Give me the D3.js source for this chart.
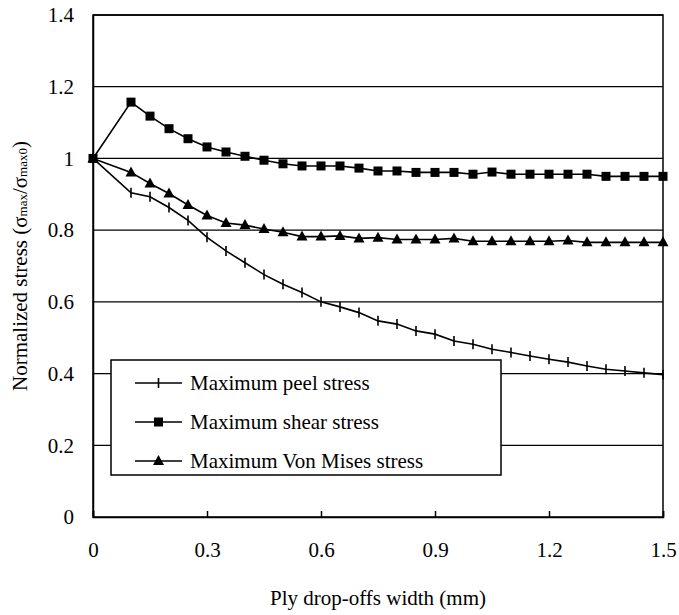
<!DOCTYPE html>
<html>
<head>
<meta charset="utf-8">
<script src="https://cdn.jsdelivr.net/npm/d3@7"></script>
<style>
  html, body { margin: 0; padding: 0; background: #fff; }
  svg { display: block; }
  text { font-family: "Liberation Serif", "Times New Roman", serif; fill: #000; }
</style>
</head>
<body>
<svg id="chart" width="679" height="615"></svg>
<script>
// ---- data ----
const widths = [0, 0.1, 0.15, 0.2, 0.25, 0.3, 0.35, 0.4, 0.45, 0.5, 0.55, 0.6, 0.65, 0.7, 0.75,
                0.8, 0.85, 0.9, 0.95, 1.0, 1.05, 1.1, 1.15, 1.2, 1.25, 1.3, 1.35, 1.4, 1.45, 1.5];
const peelStress = [1.0, 0.904, 0.893, 0.863, 0.827, 0.780, 0.742, 0.709, 0.676, 0.649, 0.626, 0.600,
                    0.586, 0.570, 0.547, 0.538, 0.519, 0.510, 0.491, 0.482, 0.468, 0.459, 0.449,
                    0.440, 0.432, 0.421, 0.412, 0.407, 0.402, 0.397];
const shearStress = [1.0, 1.157, 1.118, 1.083, 1.055, 1.032, 1.018, 1.006, 0.995, 0.985, 0.979, 0.979,
                     0.979, 0.973, 0.965, 0.965, 0.961, 0.961, 0.961, 0.956, 0.962, 0.956, 0.956,
                     0.956, 0.956, 0.956, 0.950, 0.950, 0.950, 0.950];
const vonMisesStress = [1.0, 0.961, 0.930, 0.902, 0.870, 0.841, 0.820, 0.814, 0.803, 0.794, 0.782, 0.782,
                        0.784, 0.777, 0.779, 0.774, 0.774, 0.774, 0.777, 0.769, 0.769, 0.769, 0.769,
                        0.769, 0.771, 0.766, 0.766, 0.766, 0.766, 0.766];
const seriesNames = ["Maximum peel stress", "Maximum shear stress", "Maximum Von Mises stress"];
const xTicks = [0, 0.3, 0.6, 0.9, 1.2, 1.5];
const yTicks = [0, 0.2, 0.4, 0.6, 0.8, 1.0, 1.2, 1.4];
const xTitle = "Ply drop-offs width (mm)";

// ---- layout ----
const svg = d3.select("#chart");
const pLeft = 93, pRight = 663, pTop = 15, pBottom = 517;
const FS = 21;
const x = d3.scaleLinear().domain([0, 1.5]).range([pLeft, pRight]);
const y = d3.scaleLinear().domain([0, 1.4]).range([pBottom, pTop]);

// gridlines
svg.append("g").selectAll("line").data(yTicks.filter(d => d > 0)).join("line")
  .attr("x1", pLeft).attr("x2", pRight)
  .attr("y1", d => y(d)).attr("y2", d => y(d))
  .attr("stroke", "#000").attr("stroke-width", 1.3);

// plot border
svg.append("rect").attr("x", pLeft).attr("y", pTop)
  .attr("width", pRight - pLeft).attr("height", pBottom - pTop)
  .attr("fill", "none").attr("stroke", "#000").attr("stroke-width", 1.5);

// x axis with inward ticks
const xAxis = d3.axisBottom(x).tickValues(xTicks).tickSize(-6).tickPadding(25)
  .tickFormat(d => d3.format("")(d));
const gx = svg.append("g").attr("transform", `translate(0,${pBottom})`).call(xAxis);
gx.select(".domain").attr("stroke", "#000").attr("stroke-width", 1.5);
gx.selectAll(".tick line").attr("stroke", "#000").attr("stroke-width", 1.5);
gx.selectAll(".tick text").attr("font-size", FS);

// y axis
const yAxis = d3.axisLeft(y).tickValues(yTicks).tickSize(0).tickPadding(19)
  .tickFormat(d => d3.format("")(+d.toFixed(1)));
const gy = svg.append("g").attr("transform", `translate(${pLeft},0)`).call(yAxis);
gy.select(".domain").attr("stroke", "#000").attr("stroke-width", 1.5);
gy.selectAll(".tick text").attr("font-size", FS);

// axis titles
svg.append("text").attr("x", (pLeft + pRight) / 2).attr("y", 605)
  .attr("text-anchor", "middle").attr("font-size", FS).text(xTitle);

const yt = svg.append("text").attr("transform", `translate(27,${(pTop + pBottom) / 2}) rotate(-90)`)
  .attr("text-anchor", "middle").attr("font-size", FS);
yt.append("tspan").text("Normalized stress (σ");
yt.append("tspan").attr("font-size", 13).text("max");
yt.append("tspan").text("/σ");
yt.append("tspan").attr("font-size", 13).text("max0");
yt.append("tspan").text(")");

// series
const line = d3.line().x(d => x(d[0])).y(d => y(d[1]));
const allSeries = [peelStress, shearStress, vonMisesStress];
const markerKinds = ["tick", "square", "triangle"];

function drawMarker(g, kind, cx, cy) {
  if (kind === "tick") {
    g.append("line").attr("x1", cx).attr("x2", cx).attr("y1", cy - 5).attr("y2", cy + 5)
      .attr("stroke", "#000").attr("stroke-width", 1.6);
  } else if (kind === "square") {
    g.append("rect").attr("x", cx - 4.5).attr("y", cy - 4.5).attr("width", 9).attr("height", 9).attr("fill", "#000");
  } else {
    g.append("path").attr("d", `M${cx},${cy - 6}L${cx + 5.5},${cy + 4}L${cx - 5.5},${cy + 4}Z`).attr("fill", "#000");
  }
}

allSeries.forEach((vals, i) => {
  const pts = widths.map((w, j) => [w, vals[j]]);
  const g = svg.append("g");
  g.append("path").attr("d", line(pts)).attr("fill", "none").attr("stroke", "#000").attr("stroke-width", 1.6);
  pts.forEach(p => drawMarker(g, markerKinds[i], x(p[0]), y(p[1])));
});

// legend
const lg = svg.append("g");
lg.append("rect").attr("x", 111).attr("y", 360).attr("width", 390).attr("height", 115)
  .attr("fill", "#fff").attr("stroke", "#000").attr("stroke-width", 1.5);
seriesNames.forEach((name, i) => {
  const ly = 383 + i * 39;
  lg.append("line").attr("x1", 135).attr("x2", 182).attr("y1", ly).attr("y2", ly)
    .attr("stroke", "#000").attr("stroke-width", 1.6);
  drawMarker(lg, markerKinds[i], 158.5, ly);
  lg.append("text").attr("x", 190).attr("y", ly).attr("dy", "0.35em").attr("font-size", FS).text(name);
});
</script>
</body>
</html>
